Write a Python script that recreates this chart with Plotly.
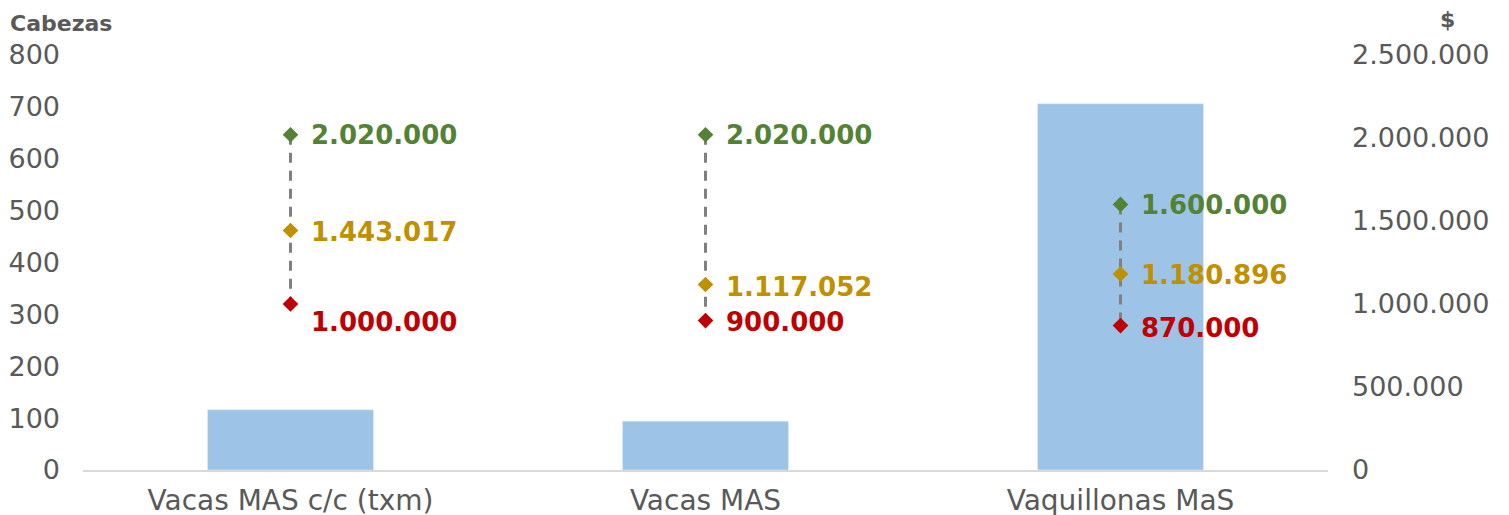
import plotly.graph_objects as go

# data
categorias = ["Vacas MAS c/c (txm)", "Vacas MAS", "Vaquillonas MaS"]
cabezas = [116, 94, 706]
precio_max = [2020000, 2020000, 1600000]
precio_prom = [1443017, 1117052, 1180896]
precio_min = [1000000, 900000, 870000]

FONT = "DejaVu Sans"
GREEN = "#548235"
GOLD = "#BF9000"
RED = "#C00000"
GREY = "#595959"

def fmt(v):
    return f"{v:,}".replace(",", ".")

fig = go.Figure()

fig.add_trace(go.Bar(x=categorias, y=cabezas, marker_color="#9DC3E6",
                     width=0.4, yaxis="y", name="Cabezas"))

# dashed range lines max -> min
lx, ly = [], []
for c, hi, lo in zip(categorias, precio_max, precio_min):
    lx += [c, c, None]
    ly += [hi, lo, None]
fig.add_trace(go.Scatter(x=lx, y=ly, yaxis="y2", mode="lines",
                         line=dict(color="#808080", width=3, dash="10px,8px"),
                         showlegend=False))

for vals, col in [(precio_max, GREEN), (precio_prom, GOLD), (precio_min, RED)]:
    fig.add_trace(go.Scatter(x=categorias, y=vals, yaxis="y2", mode="markers",
                             marker=dict(symbol="diamond", size=12, color=col),
                             showlegend=False))

# value labels
shifts = {
    GREEN: [0, 0, -1],
    GOLD: [-2, -2, -1],
    RED: [-18, -1, -2],
}
for vals, col in [(precio_max, GREEN), (precio_prom, GOLD), (precio_min, RED)]:
    for i, (c, v) in enumerate(zip(categorias, vals)):
        fig.add_annotation(x=c, y=v, yref="y2", text=f"<b>{fmt(v)}</b>",
                           showarrow=False, xanchor="left", xshift=18,
                           yshift=shifts[col][i],
                           font=dict(family=FONT, size=26, color=col))

# axis titles
fig.add_annotation(x=0, y=1, xref="paper", yref="paper", xanchor="left",
                   yanchor="bottom", xshift=-75, yshift=17, showarrow=False,
                   text="<b>Cabezas</b>",
                   font=dict(family=FONT, size=22, color=GREY))
fig.add_annotation(x=1, y=1, xref="paper", yref="paper", xanchor="left",
                   yanchor="bottom", xshift=110, yshift=21, showarrow=False,
                   text="<b>$</b>",
                   font=dict(family=FONT, size=22, color=GREY))

# page has an 8px body margin, so margins are offset by 8
fig.update_layout(
    width=1509, height=515,
    margin=dict(l=75, r=189, t=47, b=53),
    paper_bgcolor="white", plot_bgcolor="white",
    separators=",.",
    showlegend=False,
    font=dict(family=FONT, color=GREY),
    xaxis=dict(showline=True, linecolor="#D9D9D9", linewidth=2, automargin=False,
               ticks="", ticklabelstandoff=4, tickfont=dict(size=28, color=GREY)),
    yaxis=dict(range=[0, 800], dtick=100, showgrid=False, zeroline=False,
               automargin=False, ticklabelstandoff=22,
               tickfont=dict(size=27, color=GREY)),
    yaxis2=dict(range=[0, 2500000], dtick=500000, overlaying="y", side="right",
                showgrid=False, zeroline=False, tickformat=",d", automargin=False,
                ticklabelstandoff=23, tickfont=dict(size=27, color=GREY)),
)

fig.write_html("out.html")
